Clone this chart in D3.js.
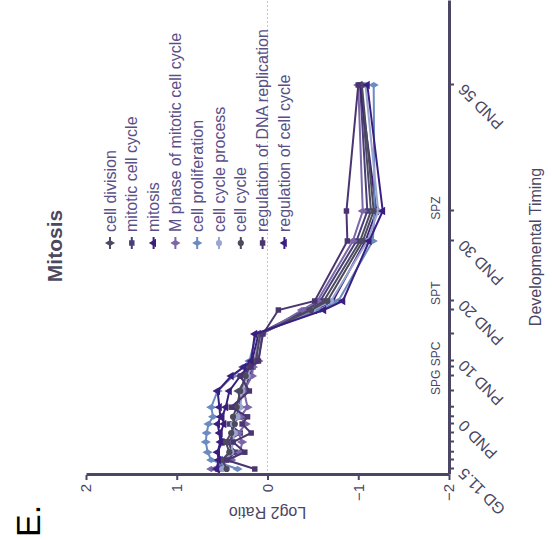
<!DOCTYPE html>
<html>
<head>
<meta charset="utf-8">
<script src="https://cdn.jsdelivr.net/npm/d3@7"></script>
<style>
  body { margin: 0; background: #fff; }
  svg { display: block; font-family: Arial, "Liberation Sans", sans-serif; }
</style>
</head>
<body>
<svg id="chart" width="552" height="540"></svg>
<script>
// sample times, days relative to birth (PND 0 = 0)
const sampleDays = [-8, -6.5, -5.2, -3.5, -2, -0.5, 0.7, 2.3, 5, 7.5, 9, 10, 14.5, 18.5, 20, 30, 35, 56];
const timeLabels = ["GD 11.5", "PND 0", "PND 10", "PND 20", "PND 30", "PND 56"];
const timeLabelDays = [-8, 0, 10, 20, 30, 56];
const stageLabels = ["SPG SPC", "SPT", "SPZ"];
const stageDays = [8.8, 21.3, 35.5];
const ratioTicks = [-2, -1, 0, 1, 2];

const seriesNames = ["cell division", "mitotic cell cycle", "mitosis", "M phase of mitotic cell cycle",
  "cell proliferation", "cell cycle process", "cell cycle", "regulation of DNA replication", "regulation of cell cycle"];
const seriesColors = ["#4d4b63", "#4b3f78", "#3b1f7a", "#7a66a8", "#6a8cc0", "#9aa5d0", "#4d4a5e", "#4a3570", "#3a1f80"];
const seriesSymbols = [d3.symbolDiamond, d3.symbolSquare, d3.symbolTriangle, d3.symbolDiamond,
  d3.symbolDiamond, d3.symbolCircle, d3.symbolCircle, d3.symbolSquare, d3.symbolTriangle];

const cellDivision = [0.52, 0.48, 0.40, 0.42, 0.38, 0.40, 0.35, 0.30, 0.32, 0.22, 0.18, 0.14, 0.08, -0.45, -0.62, -1.02, -1.14, -1.03];
const mitoticCellCycle = [0.55, 0.45, 0.35, 0.45, 0.30, 0.42, 0.28, 0.36, 0.25, 0.20, 0.16, 0.12, 0.10, -0.42, -0.58, -0.98, -1.10, -1.02];
const mitosis = [0.55, 0.52, 0.55, 0.50, 0.52, 0.48, 0.50, 0.46, 0.42, 0.30, 0.22, 0.17, 0.10, -0.52, -0.72, -1.08, -1.20, -1.02];
const mPhase = [0.62, 0.40, 0.30, 0.28, 0.32, 0.24, 0.30, 0.22, 0.26, 0.17, 0.16, 0.10, 0.06, -0.38, -0.55, -0.94, -1.05, -1.00];
const cellProliferation = [0.33, 0.62, 0.66, 0.68, 0.67, 0.65, 0.60, 0.62, 0.55, 0.38, 0.27, 0.20, 0.12, -0.58, -0.78, -1.16, -1.18, -1.17];
const cellCycleProcess = [0.50, 0.46, 0.40, 0.38, 0.36, 0.38, 0.33, 0.30, 0.28, 0.22, 0.18, 0.14, 0.08, -0.50, -0.70, -1.10, -1.22, -1.08];
const cellCycle = [0.45, 0.50, 0.42, 0.46, 0.40, 0.36, 0.38, 0.34, 0.30, 0.24, 0.20, 0.13, 0.08, -0.48, -0.66, -1.05, -1.17, -1.04];
const regDNAReplication = [0.14, 0.45, 0.25, 0.38, 0.18, 0.28, 0.22, 0.40, 0.20, 0.30, 0.18, 0.10, 0.05, -0.12, -0.52, -0.88, -0.87, -1.00];
const regCellCycle = [0.56, 0.54, 0.55, 0.52, 0.53, 0.55, 0.52, 0.53, 0.55, 0.40, 0.26, 0.18, 0.14, -0.62, -0.83, -1.12, -1.27, -1.10];

const seriesValues = [cellDivision, mitoticCellCycle, mitosis, mPhase, cellProliferation,
  cellCycleProcess, cellCycle, regDNAReplication, regCellCycle];

const axisColor = "#4a4664";
const W = 540, H = 552; // un-rotated frame

const svg = d3.select("#chart");
// whole figure is turned a quarter turn counter-clockwise
const g = svg.append("g").attr("transform", `translate(0,${W}) rotate(-90)`);

const x = d3.scaleLinear().domain([-9, 70]).range([65, 539]);
const y = d3.scaleLinear().domain([-2, 2]).range([449, 86]);

// zero line
g.append("line")
  .attr("x1", x.range()[0]).attr("x2", x.range()[1])
  .attr("y1", y(0)).attr("y2", y(0))
  .attr("stroke", "#c4c4cc").attr("stroke-width", 1)
  .attr("stroke-dasharray", "2,2");

// lines + markers
const line = d3.line().x((d, i) => x(sampleDays[i])).y(d => y(d));
const series = seriesNames.map((n, k) => ({ name: n, color: seriesColors[k], symbol: seriesSymbols[k], values: seriesValues[k] }));

const sg = g.selectAll(".series").data(series).enter().append("g").attr("class", "series");
sg.append("path")
  .attr("d", d => line(d.values))
  .attr("fill", "none")
  .attr("stroke", d => d.color)
  .attr("stroke-width", 2);
sg.each(function (s) {
  d3.select(this).selectAll("path.pt").data(s.values).enter().append("path")
    .attr("class", "pt")
    .attr("transform", (d, i) => `translate(${x(sampleDays[i])},${y(d)})`)
    .attr("d", d3.symbol().type(s.symbol).size(30))
    .attr("fill", s.color);
});

// axes
const xAxis = g.append("g").attr("transform", `translate(0,${y(-2)})`)
  .call(d3.axisBottom(x).tickValues(sampleDays).tickSize(5).tickSizeOuter(0).tickFormat(""));
const yAxis = g.append("g").attr("transform", `translate(${x.range()[0]},0)`)
  .call(d3.axisLeft(y).tickValues(ratioTicks).tickSize(5).tickSizeOuter(0).tickPadding(4).tickFormat(d3.format("d")));
[xAxis, yAxis].forEach(a => {
  a.select(".domain").attr("stroke", axisColor).attr("stroke-width", 3);
  a.selectAll(".tick line").attr("stroke", axisColor).attr("stroke-width", 2);
});
yAxis.selectAll(".tick text").attr("fill", axisColor).attr("font-size", 15);

// rotated time labels
g.selectAll(".tlab").data(timeLabels).enter().append("text")
  .attr("class", "tlab")
  .attr("transform", (d, i) => `translate(${x(timeLabelDays[i]) - 2},${y(-2) + 12}) rotate(-45)`)
  .attr("text-anchor", "end")
  .attr("dy", "0.35em")
  .attr("font-size", 16)
  .attr("fill", axisColor)
  .text(d => d);

// stage labels
g.selectAll(".stage").data(stageLabels).enter().append("text")
  .attr("x", (d, i) => x(stageDays[i]))
  .attr("y", y(-2) - 9)
  .attr("text-anchor", "middle")
  .attr("font-size", 12)
  .attr("fill", axisColor)
  .text(d => d);

// axis titles
g.append("text")
  .attr("transform", `translate(33,${(y(2) + y(-2)) / 2}) rotate(-90)`)
  .attr("text-anchor", "middle")
  .attr("font-size", 16)
  .attr("fill", axisColor)
  .text("Log2 Ratio");
g.append("text")
  .attr("x", 293).attr("y", 541)
  .attr("text-anchor", "middle")
  .attr("font-size", 16)
  .attr("fill", axisColor)
  .text("Developmental Timing");

// title
g.append("text")
  .attr("x", 294).attr("y", 62)
  .attr("text-anchor", "middle")
  .attr("font-size", 21)
  .attr("font-weight", "bold")
  .attr("fill", "#4b4860")
  .text("Mitosis");

// panel letter
g.append("text")
  .attr("x", 3).attr("y", 40)
  .attr("font-size", 34)
  .attr("fill", "#000")
  .text("E.");

// legend
const leg = g.selectAll(".leg").data(series).enter().append("g")
  .attr("class", "leg")
  .attr("transform", (d, i) => `translate(297,${110 + i * 21.8})`);
leg.append("line").attr("x1", -6).attr("x2", 6)
  .attr("stroke", d => d.color).attr("stroke-width", 2);
leg.append("path").attr("d", d => d3.symbol().type(d.symbol).size(30)()).attr("fill", d => d.color);
leg.append("text")
  .attr("x", 11).attr("dy", "0.35em")
  .attr("font-size", 16)
  .attr("fill", "#5a5088")
  .text(d => d.name);
</script>
</body>
</html>
